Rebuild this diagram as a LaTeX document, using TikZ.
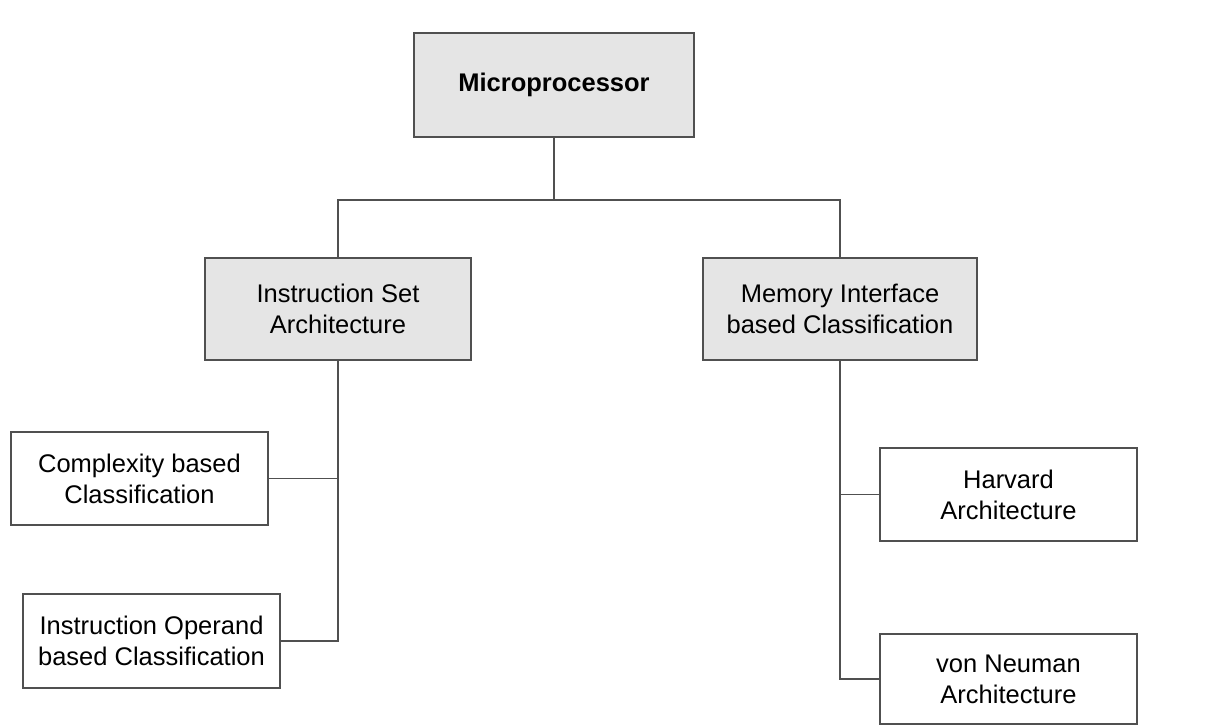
\documentclass[tikz,border=0pt]{standalone}
\usepackage{fontspec}
\setmainfont{Liberation Sans}
\usepackage{xcolor}
\usetikzlibrary{positioning}

\definecolor{boxgray}{RGB}{229,229,229}
\definecolor{linegray}{RGB}{80,80,80}

\begin{document}
\begin{tikzpicture}[
  x=1pt, y=1pt,
  topbox/.style  = {draw=linegray, line width=1.6pt, fill=boxgray,
                    align=center, inner sep=0pt,
                    font=\fontsize{25.5}{31}\selectfont},
  leafbox/.style = {draw=linegray, line width=1.4pt, fill=white,
                    align=center, inner sep=0pt,
                    minimum width=257pt,
                    font=\fontsize{25.5}{31}\selectfont},
  conn/.style    = {draw=linegray, line width=1.4pt}
]
\useasboundingbox (0,0) rectangle (1206,-726);

% root
\node[topbox, minimum width=280pt, minimum height=104pt,
      font=\fontsize{25.5}{31}\selectfont\bfseries]
  (micro) at (554,-85) {Microprocessor};

% second level
\node[topbox, minimum width=266pt, minimum height=102pt]
  (isa) at (338,-309) {Instruction Set\\Architecture};
\node[topbox, minimum width=274pt, minimum height=102pt]
  (mic) at (840,-309) {Memory Interface\\based Classification};

% leaves
\node[leafbox, minimum height=93pt]
  (cplx) at (139.5,-478.5) {Complexity based\\Classification};
\node[leafbox, minimum height=94pt]
  (oper) at (151.5,-641) {Instruction Operand\\based Classification};
\node[leafbox, minimum height=93pt]
  (harv) at (1008.5,-494.5) {Harvard\\Architecture};
\node[leafbox, minimum height=90pt]
  (vneu) at (1008.5,-679) {von Neuman\\Architecture};

% connectors
\coordinate (split) at ([yshift=-62pt]micro.south);
\draw[conn] (micro.south) -- (split);
\draw[conn] (isa.north) |- (split) -| (mic.north);

\draw[conn] (isa.south) |- (oper.east);
\draw[conn] (cplx.east) -- (isa.south |- cplx.east);

\draw[conn] (mic.south) |- (vneu.west);
\draw[conn] (harv.west) -- (mic.south |- harv.west);
\end{tikzpicture}
\end{document}
